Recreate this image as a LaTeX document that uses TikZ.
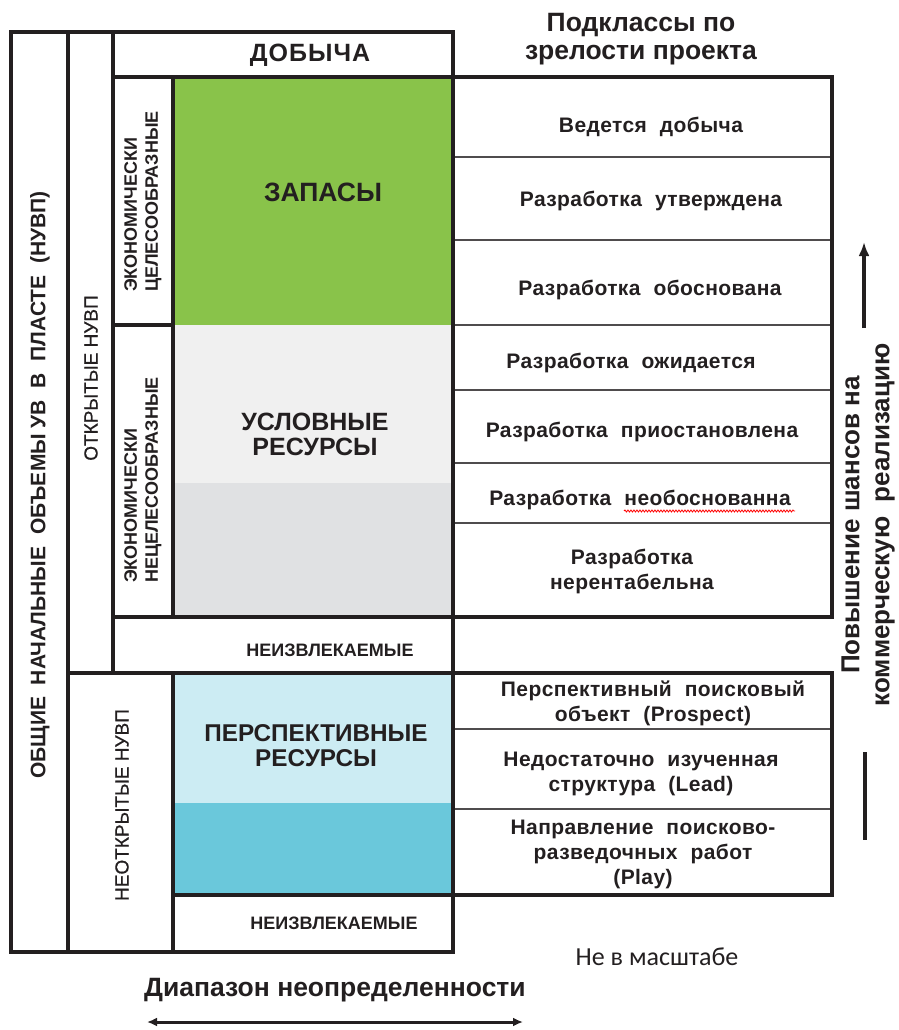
\documentclass[tikz,border=0pt]{standalone}
\usepackage{fontspec}
\setmainfont{Liberation Sans}
\newfontfamily\calibri{Carlito}
\usetikzlibrary{arrows.meta,decorations.pathmorphing}
\definecolor{ink}{RGB}{35,31,32}
\definecolor{zapasy}{RGB}{137,195,74}
\definecolor{uslov}{RGB}{240,240,240}
\definecolor{uslovdark}{RGB}{224,225,227}
\definecolor{persp}{RGB}{204,236,243}
\definecolor{perspdark}{RGB}{106,200,219}
\newcommand{\setfs}[2]{\fontsize{#1}{#2}\selectfont}
\newcommand{\wsp}{\hspace{13pt}}
\tikzset{>={Latex[length=14pt,width=11pt]}}
\tikzset{
  frame/.style = {draw=ink,line width=4pt,line cap=rect},
  rowline/.style = {draw=ink!80,line width=1.5pt},
  big/.style = {font=\bfseries\setfs{25}{25},text=ink,align=center,inner sep=0pt},
  row/.style = {font=\bfseries\setfs{21}{25}\addfontfeature{LetterSpace=2},text=ink,align=center,inner sep=0pt},
  caps/.style = {font=\bfseries\setfs{18}{21},text=ink,align=center,inner sep=0pt},
  thin caps/.style = {caps,rotate=90,font=\setfs{19}{19}\addfontfeature{FakeBold=0.6}},
  side/.style = {font=\bfseries\setfs{18}{21},text=ink,rotate=90,align=left,anchor=west,inner sep=0pt}
}

\begin{document}
\begin{tikzpicture}[x=1pt,y=-1pt]
  \useasboundingbox (0,0) rectangle (898,1030);
  \fill[zapasy] (173,77) rectangle (453,325);
  \fill[uslov] (173,325) rectangle (453,483);
  \fill[uslovdark] (173,483) rectangle (453,617);
  \fill[persp] (173,673) rectangle (453,803);
  \fill[perspdark] (173,803) rectangle (453,895);
  \foreach \y in {157,240,325,390,463,523,729,809}
    \draw[rowline] (453,\y) -- (832,\y);
  \draw[frame] (11,32) rectangle (453,952);
  \draw[frame] (68,32) -- (68,952);
  \draw[frame] (113,32) -- (113,673);
  \draw[frame] (173,77) -- (173,617);
  \draw[frame] (113,325) -- (173,325);
  \draw[frame] (173,673) -- (173,952);
  \draw[frame] (113,77) -- (832,77) -- (832,617) -- (113,617);
  \draw[frame] (68,673) -- (832,673) -- (832,895) -- (173,895);

  \node[big,font=\bfseries\setfs{25}{25}\addfontfeature{LetterSpace=4}] (dob) at (310,55) {ДОБЫЧА};
  \node[big,font=\bfseries\setfs{26.5}{28}] (podkl) at (641,39) {Подклассы по\\зрелости проекта};
  \node[big,font=\bfseries\setfs{26.5}{26}] (zap) at (323,192) {ЗАПАСЫ};
  \node[big] (usl) at (315,434) {УСЛОВНЫЕ\\РЕСУРСЫ};
  \node[big,font=\bfseries\setfs{24.3}{25}] (pers) at (316,746) {ПЕРСПЕКТИВНЫЕ\\РЕСУРСЫ};
  \node[caps] (neiz1) at (330,650) {НЕИЗВЛЕКАЕМЫЕ};
  \node[caps] (neiz2) at (334,923) {НЕИЗВЛЕКАЕМЫЕ};

  \node[caps,rotate=90,font=\bfseries\setfs{21}{21}] (total) at (40,485)
    {ОБЩИЕ\ \ НАЧАЛЬНЫЕ\ \ ОБЪЕМЫ УВ\ \ В\ \ ПЛАСТЕ\ \ (НУВП)};
  \node[thin caps] (otkr) at (91,378) {ОТКРЫТЫЕ НУВП};
  \node[thin caps] (neotkr) at (122,805) {НЕОТКРЫТЫЕ НУВП};
  \node[side] (econ) at (143,292) {ЭКОНОМИЧЕСКИ\\ЦЕЛЕСООБРАЗНЫЕ};
  \node[side] (neecon) at (143,583) {ЭКОНОМИЧЕСКИ\\НЕЦЕЛЕСООБРАЗНЫЕ};

  \node[row] (r1) at (651,127) {Ведется\wsp добыча};
  \node[row] (r2) at (651,201) {Разработка\wsp утверждена};
  \node[row] (r3) at (650,290) {Разработка\wsp обоснована};
  \node[row] (r4) at (631,363) {Разработка\wsp ожидается};
  \node[row] (r5) at (642,432) {Разработка\wsp приостановлена};
  \node[row] (r6) at (640,500) {Разработка\wsp необоснованна};
  \node[row] (r7) at (632,571) {Разработка\\нерентабельна};
  \node[row] (p1) at (653,703) {Перспективный\wsp поисковый\\объект\wsp (Prospect)};
  \node[row] (p2) at (641,774) {Недостаточно\wsp изученная\\структура\wsp (Lead)};
  \node[row] (p3) at (643,854) {Направление\wsp поисково-\\разведочных\wsp работ\\(Play)};
  \draw[red,line width=0.8pt,decorate,decoration={snake,amplitude=1pt,segment length=3pt}]
    (624,511) -- (795,511);

  \node[big,rotate=90,font=\bfseries\setfs{26}{30}] (chance) at (868,525)
    {Повышение шансов на\\коммерческую\ \ реализацию};
  \coordinate (upA) at (864,328);
  \coordinate (upB) at (864,242);
  \draw[->,line width=3.5pt,ink] (upA) -- (upB);
  \coordinate (lowA) at (865,752);
  \coordinate (lowB) at (865,840);
  \draw[line width=3.5pt,ink] (lowA) -- (lowB);

  \node[big,font=\bfseries\setfs{26.5}{26}] (diap) at (335,990) {Диапазон неопределенности};
  \coordinate (diapL) at (147,1022);
  \coordinate (diapR) at (523,1022);
  \draw[{Latex[length=10pt,width=9pt]}-{Latex[length=10pt,width=9pt]},line width=3pt,ink] (diapL) -- (diapR);
  \node[font=\calibri\setfs{26}{26},text=ink] (scale) at (657,957) {Не в масштабе};
\end{tikzpicture}
\end{document}
